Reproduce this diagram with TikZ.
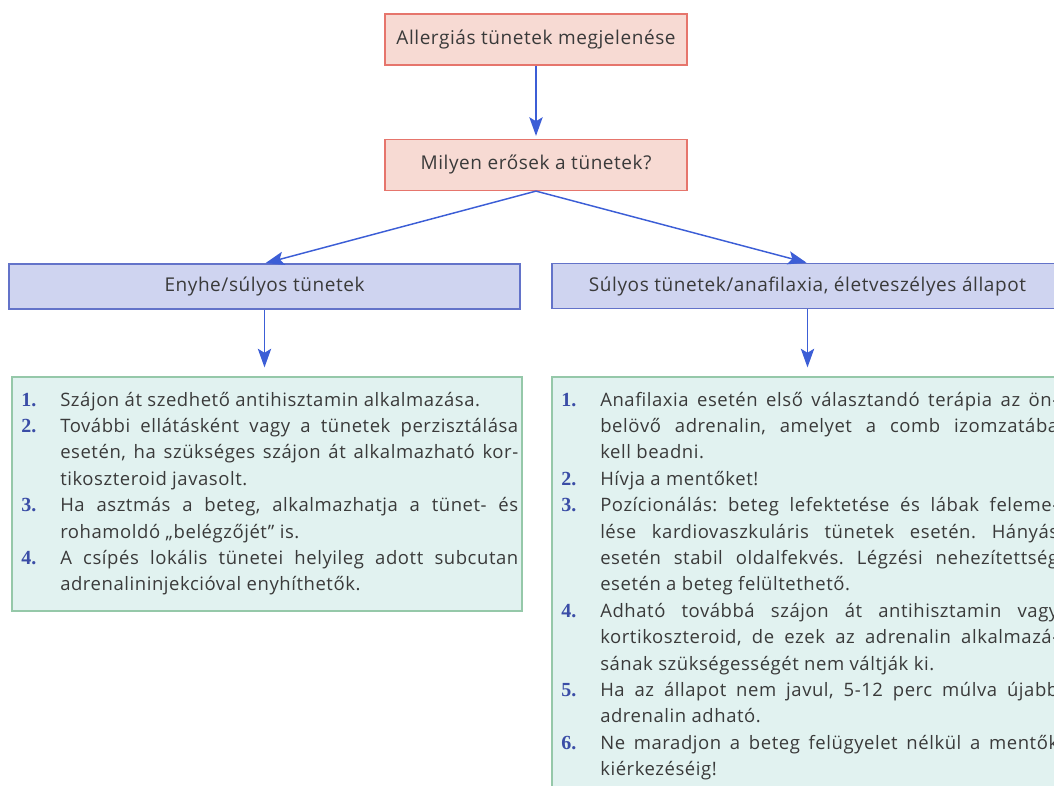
\documentclass[tikz,border=0pt]{standalone}
\usepackage{fontspec}
\setmainfont[LetterSpace=3]{Open Sans}
\newfontfamily\numfont{Liberation Serif}
\usetikzlibrary{arrows.meta}
\frenchspacing
\newdimen\colw \colw=343.5pt
\definecolor{pinkfill}{HTML}{F7DAD3}
\definecolor{pinkline}{HTML}{E6756C}
\definecolor{bluefill}{HTML}{CFD4F0}
\definecolor{blueline}{HTML}{6373C9}
\definecolor{greenfill}{HTML}{E1F2F0}
\definecolor{greenline}{HTML}{95C8A9}
\definecolor{arrowblue}{HTML}{3C5ED6}
\definecolor{numblue}{HTML}{3A4DA6}
\definecolor{textgray}{HTML}{3A3A3A}
\newcommand\JL[1]{\hbox to \colw{#1}}
\newcommand\LL[1]{\hbox to \colw{#1\hfil}}
\newcommand\NUM[1]{\llap{\hbox to 29.25pt{\numfont\fontsize{15pt}{19.8pt}\selectfont\bfseries\color{numblue}#1\hfil}}}
\tikzset{
  pinkbox/.style={draw=pinkline, fill=pinkfill, line width=0.9pt, minimum width=226.5pt, minimum height=38.25pt, inner sep=0pt, text=textgray, font=\fontsize{14.25pt}{19.8pt}\selectfont},
  bluebox/.style={draw=blueline, fill=bluefill, line width=0.9pt, minimum width=383.25pt, minimum height=33.75pt, inner sep=0pt, text=textgray, font=\fontsize{14.25pt}{19.8pt}\selectfont},
  greenbox/.style={draw=greenline, fill=greenfill, line width=0.9pt, inner sep=0pt},
  listtext/.style={anchor=base west, inner sep=0pt, text=textgray},
  arr/.style={draw=arrowblue, line width=1.1pt, -{Stealth[length=14pt, width=10pt, inset=3pt]}}
}
\begin{document}
\begin{tikzpicture}[x=0.75pt, y=-0.75pt]
\useasboundingbox (0,0) rectangle (1054,786);
\clip (0,0) rectangle (1054,786);
\node[pinkbox] (top) at (536,39.5) {Allergiás tünetek megjelenése};
\node[pinkbox] (q) at (536,165) {Milyen erősek a tünetek?};
\node[bluebox] (lb) at (264.5,286.5) {Enyhe/súlyos tünetek};
\node[bluebox] (rb) at (807.5,286) {Súlyos tünetek/anafilaxia, életveszélyes állapot};
\node[greenbox, minimum width=382.5pt, minimum height=175.5pt] (lg) at (267,494) {};
\node[greenbox, minimum width=382.5pt, minimum height=322.5pt] (rg) at (807,592) {};
\draw[arr, shorten >=2.25pt] (top.south) -- (q.north);
\draw[arr, shorten >=0.75pt] (q.south) -- (lb.north);
\draw[arr, shorten >=0.75pt] (q.south) -- (rb.north);
\draw[arr, shorten >=6.75pt] (lb.south) -- (lb.south |- lg.north);
\draw[arr, shorten >=6.75pt] (rb.south) -- (rb.south |- rg.north);
\node[listtext] (ll) at (60,406) {\begin{minipage}[t]{\colw}\fontsize{13.875pt}{19.8pt}\selectfont
\LL{\NUM{1.}Szájon át szedhető antihisztamin alkalmazása.}
\JL{\NUM{2.}További ellátásként vagy a tünetek perzisztálása}
\JL{esetén, ha szükséges szájon át alkalmazható kor-}
\LL{tikoszteroid javasolt.}
\JL{\NUM{3.}Ha asztmás a beteg, alkalmazhatja a tünet- és}
\LL{rohamoldó „belégzőjét” is.}
\JL{\NUM{4.}A csípés lokális tünetei helyileg adott subcutan}
\LL{adrenalininjekcióval enyhíthetők.}
\end{minipage}};
\node[listtext] (rl) at (600,406) {\begin{minipage}[t]{\colw}\fontsize{13.875pt}{19.8pt}\selectfont
\JL{\NUM{1.}Anafilaxia esetén első választandó terápia az ön-}
\JL{belövő adrenalin, amelyet a comb izomzatába}
\LL{kell beadni.}
\LL{\NUM{2.}Hívja a mentőket!}
\JL{\NUM{3.}Pozícionálás: beteg lefektetése és lábak feleme-}
\JL{lése kardiovaszkuláris tünetek esetén. Hányás}
\JL{esetén stabil oldalfekvés. Légzési nehezítettség}
\LL{esetén a beteg felültethető.}
\JL{\NUM{4.}Adható továbbá szájon át antihisztamin vagy}
\JL{kortikoszteroid, de ezek az adrenalin alkalmazá-}
\LL{sának szükségességét nem váltják ki.}
\JL{\NUM{5.}Ha az állapot nem javul, 5-12 perc múlva újabb}
\LL{adrenalin adható.}
\JL{\NUM{6.}Ne maradjon a beteg felügyelet nélkül a mentők}
\LL{kiérkezéséig!}
\end{minipage}};
\end{tikzpicture}
\end{document}
